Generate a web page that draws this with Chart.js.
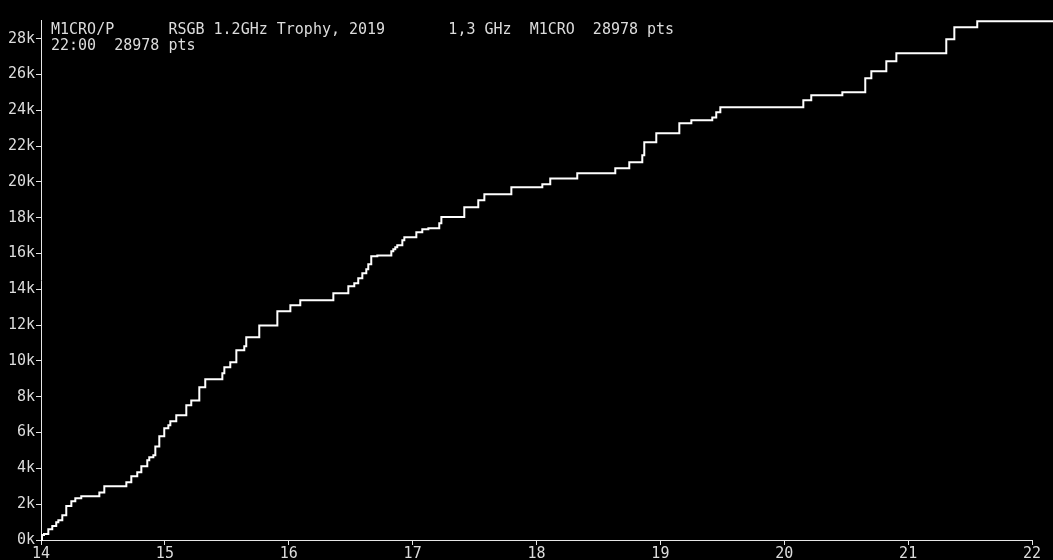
<!DOCTYPE html>
<html>
<head>
<meta charset="utf-8">
<title>M1CRO/P RSGB 1.2GHz Trophy, 2019</title>
<script src="https://cdn.jsdelivr.net/npm/chart.js@4.4.1/dist/chart.umd.min.js"></script>
<style>
  html, body { margin: 0; padding: 0; background: #000; }
  #wrap { position: relative; width: 1053px; height: 560px; }
</style>
</head>
<body>
<div id="wrap"><canvas id="score"></canvas></div>
<script>
// -- Data -----------------------------------------------------------------

// time of each score step, decimal hours (UTC); last one is where the
// trace leaves the right edge of the picture
const stepTimes = [
  14.000, 14.008, 14.024, 14.059, 14.091, 14.123, 14.140, 14.172, 14.204, 14.245,
  14.277, 14.325, 14.471, 14.511, 14.689, 14.729, 14.777, 14.810, 14.858, 14.874,
  14.907, 14.923, 14.955, 14.995, 15.028, 15.044, 15.092, 15.173, 15.213, 15.278,
  15.326, 15.464, 15.480, 15.528, 15.577, 15.641, 15.657, 15.762, 15.908, 16.013,
  16.093, 16.360, 16.481, 16.529, 16.561, 16.594, 16.626, 16.642, 16.666, 16.715,
  16.828, 16.844, 16.860, 16.876, 16.917, 16.933, 17.030, 17.078, 17.127, 17.215,
  17.232, 17.417, 17.530, 17.579, 17.797, 18.047, 18.111, 18.329, 18.636, 18.749,
  18.854, 18.870, 18.967, 19.153, 19.250, 19.419, 19.451, 19.484, 20.154, 20.218,
  20.469, 20.654, 20.703, 20.824, 20.905, 21.308, 21.373, 21.558, 22.170,
];

// cumulative score after each step, points
const stepScores = [
  0, 280, 330, 600, 780, 990, 1100, 1380, 1900, 2160,
  2330, 2440, 2660, 3000, 3220, 3560, 3780, 4120, 4450, 4620,
  4730, 5230, 5790, 6240, 6410, 6630, 6970, 7530, 7800, 8530,
  8980, 9310, 9650, 9930, 10600, 10820, 11320, 11990, 12780, 13110,
  13390, 13780, 14170, 14340, 14620, 14900, 15120, 15400, 15850, 15900,
  16130, 16240, 16350, 16460, 16740, 16910, 17190, 17360, 17410, 17690,
  18040, 18590, 18980, 19310, 19700, 19870, 20200, 20490, 20770, 21100,
  21500, 22220, 22720, 23280, 23450, 23610, 23890, 24180, 24570, 24840,
  25010, 25790, 26180, 26740, 27190, 27970, 28640, 28978, 28978,
];

const hourTicks = [14, 15, 16, 17, 18, 19, 20, 21, 22];
const scoreTicks = [0, 2000, 4000, 6000, 8000, 10000, 12000, 14000,
  16000, 18000, 20000, 22000, 24000, 26000, 28000];

const headerLines = [
  'M1CRO/P      RSGB 1.2GHz Trophy, 2019       1,3 GHz  M1CRO  28978 pts',
  '22:00  28978 pts',
];

// -- Style ----------------------------------------------------------------

const FONT = '"DejaVu Sans Mono", "Liberation Mono", monospace';
const TEXT = '#dcdcdc';
const AXIS = '#e6e6e6';

Chart.defaults.animation = false;
Chart.defaults.font.family = FONT;
Chart.defaults.font.size = 15;
Chart.defaults.color = TEXT;

// header text drawn inside the plot, top-left
const headerPlugin = {
  id: 'header',
  afterDraw(chart) {
    const { ctx } = chart;
    ctx.save();
    ctx.fillStyle = TEXT;
    ctx.font = '15px ' + FONT;
    ctx.textAlign = 'left';
    ctx.textBaseline = 'alphabetic';
    headerLines.forEach((line, i) => {
      ctx.fillText(line, 51, 34 + i * 16);
    });
    ctx.restore();
  },
};

const points = stepTimes.map((t, i) => ({ x: t, y: stepScores[i] }));

new Chart(document.getElementById('score'), {
  type: 'line',
  data: {
    datasets: [{
      data: points,
      stepped: true,
      borderColor: '#ffffff',
      borderWidth: 2,
      pointRadius: 0,
      fill: false,
      clip: false,
    }],
  },
  options: {
    responsive: true,
    maintainAspectRatio: false,
    layout: { padding: { top: 20, right: 21, left: 0, bottom: 0 } },
    scales: {
      x: {
        type: 'linear',
        min: 14,
        max: 22,
        afterFit: (s) => { s.height = 20; },
        afterBuildTicks: (s) => { s.ticks = hourTicks.map((v) => ({ value: v })); },
        border: { display: true, color: AXIS, width: 1 },
        grid: { drawOnChartArea: false, drawTicks: true, tickLength: 5, color: AXIS },
        ticks: { color: TEXT, padding: 0, maxRotation: 0, autoSkip: false,
          callback: (v) => String(v) },
      },
      y: {
        type: 'linear',
        min: 0,
        max: 29050,
        afterFit: (s) => { s.width = 41; },
        afterBuildTicks: (s) => { s.ticks = scoreTicks.map((v) => ({ value: v })); },
        border: { display: true, color: AXIS, width: 1 },
        grid: { drawOnChartArea: false, drawTicks: true, tickLength: 5, color: AXIS },
        ticks: { color: TEXT, padding: 1, autoSkip: false,
          callback: (v) => (v / 1000) + 'k' },
      },
    },
    plugins: {
      legend: { display: false },
      tooltip: { enabled: false },
    },
  },
  plugins: [headerPlugin],
});
</script>
</body>
</html>
